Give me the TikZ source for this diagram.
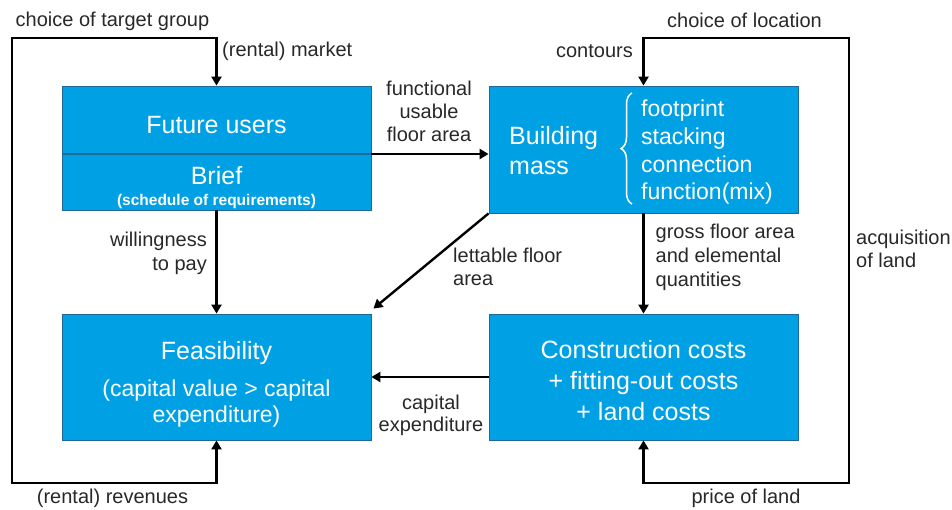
\documentclass[tikz,border=0pt]{standalone}
\usepackage{fontspec}
\setmainfont{Liberation Sans}
\usetikzlibrary{arrows.meta,decorations.pathreplacing,calc}
\definecolor{boxfill}{RGB}{0,161,228}
\definecolor{boxedge}{RGB}{30,105,150}
\definecolor{labelgray}{RGB}{40,40,40}

\begin{document}
\begin{tikzpicture}[x=1pt,y=-1pt,
  blockbox/.style={rectangle, fill=boxfill, draw=boxedge, line width=0.8pt,
    minimum width=309pt, inner sep=0pt},
  boxtext/.style={text=white, font=\fontsize{25}{30}\selectfont, inner sep=0pt, anchor=base},
  subtext/.style={text=white, font=\fontsize{23}{28}\selectfont, inner sep=0pt, anchor=base},
  smalltext/.style={text=white, font=\bfseries\fontsize{15.5}{18}\selectfont, inner sep=0pt, anchor=base},
  lbl/.style={text=labelgray, font=\fontsize{20}{23.5}\selectfont, inner sep=0pt},
  flow/.style={line width=2.4pt, draw=black, -{Triangle[length=9pt,width=10pt]}},
  twoway/.style={line width=2.4pt, draw=black, line join=miter,
    {Triangle[length=9pt,width=10pt]}-{Triangle[length=9pt,width=10pt]}},
]
\useasboundingbox (0,0) rectangle (952,510);

% main blocks
\node[blockbox, minimum height=124pt] (A) at (216.5,148) {};
\node[blockbox, minimum height=127pt] (B) at (643.5,149.5) {};
\node[blockbox, minimum height=126pt] (C) at (216.5,377) {};
\node[blockbox, minimum height=126pt] (D) at (643.5,377) {};

% divider between "Future users" and "Brief"
\coordinate (Adiv) at (216.5,154);
\draw[boxedge, line width=1.6pt] (A.west |- Adiv) -- (A.east |- Adiv);

% block texts
\node[boxtext] (fu) at (216.5,134) {Future users};
\node[boxtext] (br) at (216.5,185) {Brief};
\node[smalltext] (sr) at (216.5,206) {(schedule of requirements)};

\node[boxtext, anchor=base west] (bm1) at (509,145) {Building};
\node[boxtext, anchor=base west] (bm2) at (509,175) {mass};
\draw[white, line width=1.5pt, decorate,
  decoration={brace, amplitude=11pt, aspect=0.5}] (632,204) -- (632,93);
\node[subtext, anchor=base west] (l1) at (641,117) {footprint};
\node[subtext, anchor=base west] (l2) at (641,145) {stacking};
\node[subtext, anchor=base west] (l3) at (641,172.5) {connection};
\node[subtext, anchor=base west] (l4) at (641,200) {function(mix)};

\node[boxtext] (fe) at (216.5,359) {Feasibility};
\node[subtext] (fe2) at (216.5,396.5) {(capital value > capital};
\node[subtext] (fe3) at (216.5,422.5) {expenditure)};

\node[boxtext] (cc1) at (643.5,358) {Construction costs};
\node[boxtext] (cc2) at (643.5,389) {+ fitting-out costs};
\node[boxtext] (cc3) at (643.5,420) {+ land costs};

% loop corners
\coordinate (L1) at (12,38);
\coordinate (L2) at (12,483);
\coordinate (R1) at (849,38);
\coordinate (R2) at (849,483);

% connectors
\draw[twoway] (A.north) |- (L1) -- (L2) -| (C.south);
\draw[twoway] (B.north) |- (R1) -- (R2) -| (D.south);
\draw[flow] (A.east |- Adiv) -- (B.west |- Adiv);
\draw[flow] (A.south) -- (C.north);
\draw[flow] (B.south) -- (D.north);
\draw[flow] (D.west) -- (C.east);
\draw[flow] (B.south west) -- ($(C.north east)+(2,-5)$);

% connector labels
\node[lbl, anchor=base west] (t1) at (15.5,27) {choice of target group};
\node[lbl, anchor=base west] (t2) at (222,57) {(rental) market};
\node[lbl, anchor=base] (t3a) at (429,96) {functional};
\node[lbl, anchor=base] (t3b) at (429,119) {usable};
\node[lbl, anchor=base] (t3c) at (429,141.5) {floor area};
\node[lbl, anchor=base east] (t4a) at (207,246.5) {willingness};
\node[lbl, anchor=base east] (t4b) at (207,271) {to pay};
\node[lbl, anchor=base west] (t5a) at (453,263) {lettable floor};
\node[lbl, anchor=base west] (t5b) at (453,286) {area};
\node[lbl, anchor=base west] (t6a) at (655.5,239) {gross floor area};
\node[lbl, anchor=base west] (t6b) at (655.5,263) {and elemental};
\node[lbl, anchor=base west] (t6c) at (655.5,286.5) {quantities};
\node[lbl, anchor=base west] (t7a) at (856,245) {acquisition};
\node[lbl, anchor=base west] (t7b) at (856,268) {of land};
\node[lbl, anchor=base] (t8a) at (431,409) {capital};
\node[lbl, anchor=base] (t8b) at (431,431.5) {expenditure};
\node[lbl, anchor=base] (t9) at (112.5,503) {(rental) revenues};
\node[lbl, anchor=base] (t10) at (746,503) {price of land};
\node[lbl, anchor=base] (t11) at (744.5,28) {choice of location};
\node[lbl, anchor=base east] (t12) at (633,58) {contours};
\end{tikzpicture}
\end{document}
